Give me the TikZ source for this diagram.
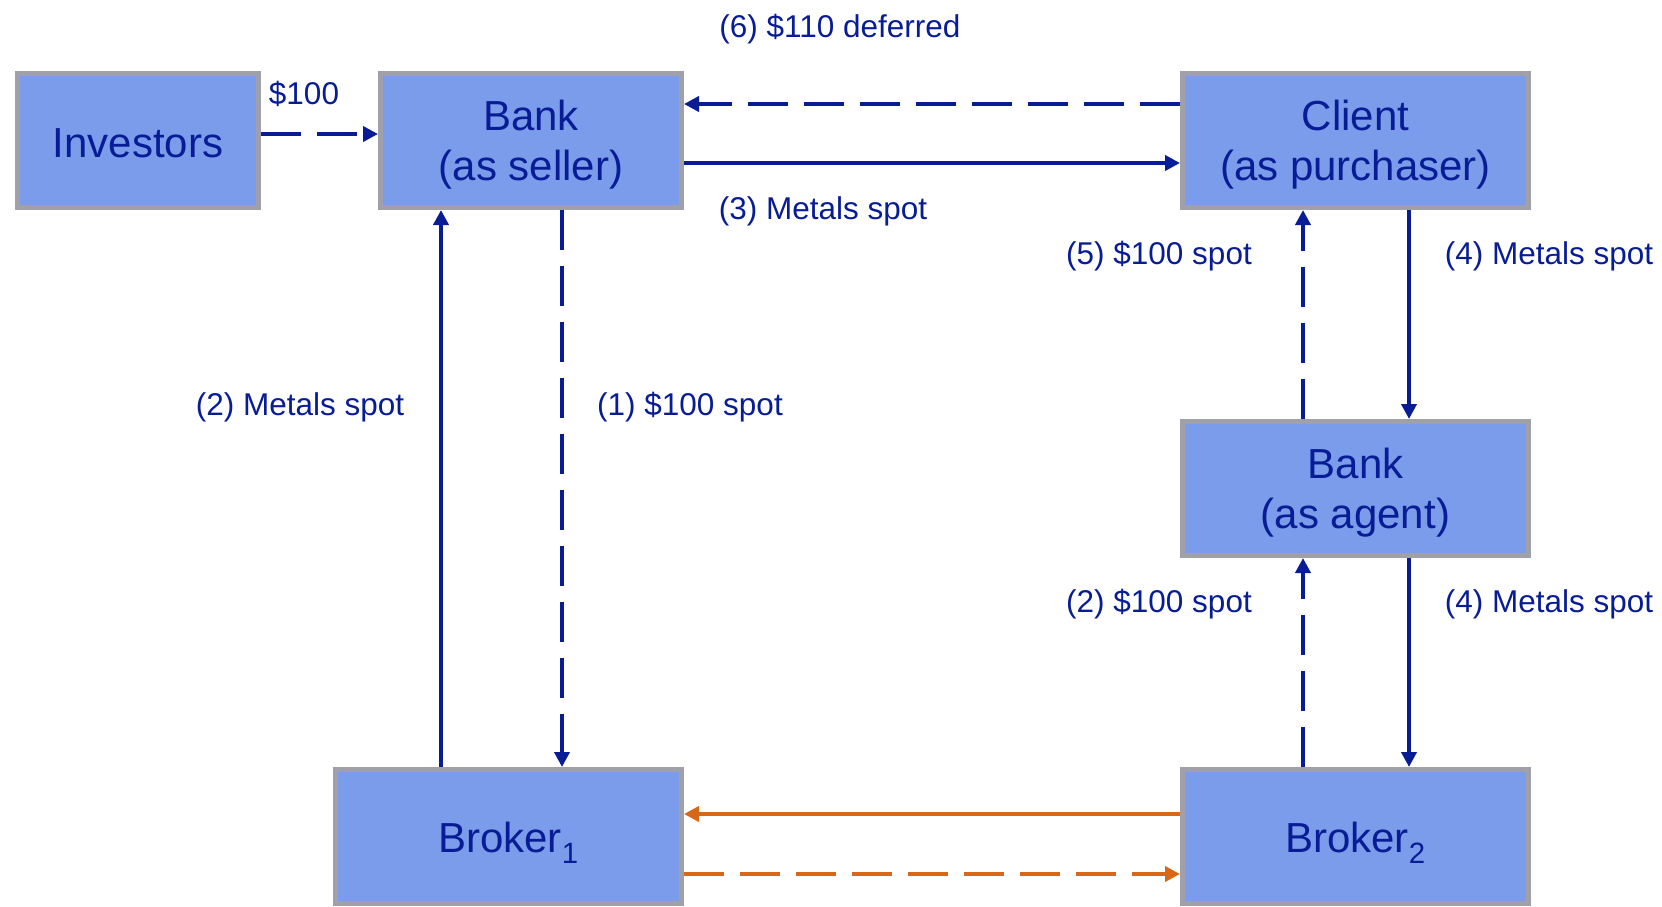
\documentclass[tikz,border=0pt]{standalone}
\usepackage{fontspec}
\setmainfont{Liberation Sans}
\usetikzlibrary{arrows.meta}
\definecolor{boxfill}{RGB}{122,156,234}
\definecolor{boxline}{RGB}{160,160,168}
\definecolor{navy}{RGB}{8,28,150}
\definecolor{orng}{RGB}{216,104,24}
\newcommand\boxstrut[1]{\rule{0pt}{#1}}
\tikzset{
  box/.style={draw=boxline, fill=boxfill, line width=5pt, text=navy, align=center,
    font=\fontsize{42}{50}\selectfont, inner sep=0pt},
  lbl/.style={text=navy, font=\fontsize{31.5}{36}\selectfont, inner sep=0pt},
  conn/.style={draw=navy, line width=4pt, -{Triangle[length=15pt,width=15pt]}},
  dsh/.style={dash pattern=on 40pt off 16pt},
}
\begin{document}
\begin{tikzpicture}[x=1pt,y=1pt]
\useasboundingbox (0,0) rectangle (1662,-906);
% boxes
\node[box, minimum width=241pt, minimum height=134pt] (inv) at (138,-140.5) {\boxstrut{35pt}Investors};
\node[box, minimum width=301pt, minimum height=134pt] (bs) at (531,-140.5) {\boxstrut{39pt}Bank\\(as seller)};
\node[box, minimum width=346pt, minimum height=134pt] (cl) at (1355.5,-140.5) {\boxstrut{39pt}Client\\(as purchaser)};
\node[box, minimum width=346pt, minimum height=134pt] (ba) at (1355.5,-488.5) {\boxstrut{39pt}Bank\\(as agent)};
\node[box, minimum width=346pt, minimum height=134pt] (b1) at (508.5,-836.5) {\boxstrut{43pt}Broker\textsubscript{1}};
\node[box, minimum width=346pt, minimum height=134pt] (b2) at (1355.5,-836.5) {\boxstrut{43pt}Broker\textsubscript{2}};
% coordinates for connector lines
\coordinate (yA) at (0,-134);
\coordinate (yB) at (0,-104);
\coordinate (yC) at (0,-163);
\coordinate (xA) at (441,0);
\coordinate (xB) at (562,0);
\coordinate (xC) at (1303,0);
\coordinate (xD) at (1409,0);
\coordinate (yD) at (0,-814);
\coordinate (yE) at (0,-874);
% connectors
\draw[conn, dsh] (inv.east |- yA) -- (bs.west |- yA);
\draw[conn, dsh] (cl.west |- yB) -- (bs.east |- yB);
\draw[conn] (bs.east |- yC) -- (cl.west |- yC);
\draw[conn] (xA |- b1.north) -- (xA |- bs.south);
\draw[conn, dsh] (xB |- bs.south) -- (xB |- b1.north);
\draw[conn, dsh] (xC |- ba.north) -- (xC |- cl.south);
\draw[conn] (xD |- cl.south) -- (xD |- ba.north);
\draw[conn, dsh] (xC |- b2.north) -- (xC |- ba.south);
\draw[conn] (xD |- ba.south) -- (xD |- b2.north);
\draw[conn, draw=orng] (b2.west |- yD) -- (b1.east |- yD);
\draw[conn, draw=orng, dsh] (b1.east |- yE) -- (b2.west |- yE);
% labels
\node[lbl] (l0) at (304,-94) {\$100};
\node[lbl] (l6) at (840,-29) {(6) \$110 deferred};
\node[lbl] (l3) at (823,-211) {(3) Metals spot};
\node[lbl] (l2a) at (300,-407) {(2) Metals spot};
\node[lbl] (l1) at (690,-407) {(1) \$100 spot};
\node[lbl] (l5) at (1159,-256) {(5) \$100 spot};
\node[lbl] (l4a) at (1549,-256) {(4) Metals spot};
\node[lbl] (l2b) at (1159,-604) {(2) \$100 spot};
\node[lbl] (l4b) at (1549,-604) {(4) Metals spot};
\end{tikzpicture}
\end{document}
